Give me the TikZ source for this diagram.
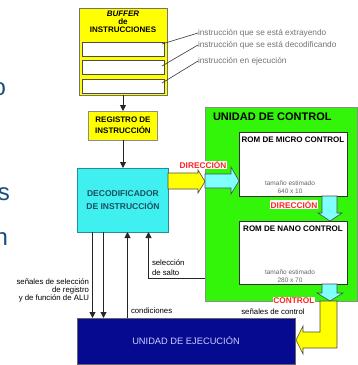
\documentclass[tikz,border=0pt]{standalone}
\usepackage{fontspec}
\setmainfont{Liberation Sans}
\usetikzlibrary{arrows.meta,positioning,calc}
\definecolor{bufyellow}{RGB}{255,255,0}
\definecolor{deccyan}{RGB}{64,240,240}
\definecolor{decedge}{RGB}{40,140,150}
\definecolor{dectext}{RGB}{25,80,95}
\definecolor{cugreen}{RGB}{51,245,10}
\definecolor{pathcyan}{RGB}{128,255,255}
\definecolor{execblue}{RGB}{5,10,145}
\definecolor{exectext}{RGB}{205,205,255}
\definecolor{tagred}{RGB}{255,35,35}
\definecolor{slideblue}{RGB}{25,75,125}

\begin{document}
\begin{tikzpicture}[x=1pt,y=-1pt,
    every node/.style={inner sep=0pt, outer sep=0pt},
    bufbox/.style={rectangle, draw=black!55, line width=1pt, fill=bufyellow, minimum width=88pt, minimum height=87pt},
    slot/.style={rectangle, draw=black!70, line width=1pt, fill=white, minimum width=82pt, minimum height=14pt},
    regbox/.style={rectangle, draw=black!45, line width=0.8pt, fill=bufyellow, minimum width=69pt, minimum height=29pt, align=center, font=\bfseries\fontsize{8}{11}\selectfont},
    decbox/.style={rectangle, draw=decedge, line width=1pt, fill=deccyan, minimum width=91pt, minimum height=64pt, align=center, text=dectext, font=\bfseries\fontsize{8.5}{13}\selectfont},
    cubox/.style={rectangle, draw=black!45, line width=0.5pt, fill=cugreen, minimum width=152pt, minimum height=194pt},
    rombox/.style={rectangle, draw=black!80, line width=0.8pt, fill=white, minimum width=108pt, minimum height=64pt},
    romtitle/.style={font=\bfseries\fontsize{8}{9}\selectfont},
    execbox/.style={rectangle, draw=black!60, line width=0.8pt, fill=execblue, minimum width=218pt, minimum height=46pt, text=exectext, font=\fontsize{9.3}{10}\selectfont},
    note/.style={text=black!55, font=\fontsize{8.3}{9}\selectfont},
    sigtext/.style={font=\fontsize{7.8}{7.6}\selectfont},
    sizetext/.style={text=black!60, align=center, font=\fontsize{6.5}{8}\selectfont},
    tagtext/.style={fill=white, text=tagred, inner sep=0.6pt, font=\bfseries\fontsize{8.3}{9}\selectfont},
    slidetext/.style={text=slideblue, font=\fontsize{24}{24}\selectfont},
    arrow/.style={-{Triangle[length=6pt,width=6pt]}, line width=1pt, black!85},
    leader/.style={line width=0.6pt, black!80},
    fatarrow/.style={draw=black!70, line width=0.6pt, line join=miter}
]
\clip (0,0) rectangle (358,365);

% bits of the slide text on the left
\node[slidetext, anchor=base east] (frag1) at (6,95) {o};
\node[slidetext, anchor=base east] (frag2) at (10,200) {s};
\node[slidetext, anchor=base east] (frag3) at (8,245) {n};

% Buffer de instrucciones
\node[bufbox] (buffer) at (123,51.5) {};
\node[font=\bfseries\fontsize{8}{8}\selectfont, align=center] (buftitle) at (123,22) {\textit{BUFFER}\\de\\INSTRUCCIONES};
\node[slot] (slotA) at (123,49) {};
\node[slot] (slotB) at (123,67.5) {};
\node[slot] (slotC) at (123,86) {};

\node[note, anchor=west] (noteA) at (198,33) {instrucción que se está extrayendo};
\node[note, anchor=west] (noteB) at (198,45) {instrucción que se está decodificando};
\node[note, anchor=west] (noteC) at (198,61) {instrucción en ejecución};
\draw[leader] ([shift={(-2,-5)}]slotA.east) -- (noteA.west);
\draw[leader] ([shift={(-2,-1.5)}]slotB.east) -- (noteB.west);
\draw[leader] ([shift={(-2,-3)}]slotC.east) -- (noteC.west);

% Registro y decodificador
\node[regbox, below=16pt of buffer] (registro) {REGISTRO DE\\INSTRUCCIÓN};
\node[decbox, below=28pt of registro] (dec) {DECODIFICADOR\\DE INSTRUCCIÓN};
\draw[arrow] (buffer) -- (registro);
\draw[arrow] (registro) -- (dec);

% Unidad de control
\node[cubox] (cu) at (281,204) {};
\node[anchor=west, font=\bfseries\fontsize{11}{12}\selectfont] (cutitle) at (213,117) {UNIDAD DE CONTROL};
\node[rombox] (rommicro) at (293,164) {};
\node[rombox, below=25pt of rommicro, minimum height=63pt] (romnano) {};
\node[romtitle] (microtitle) at ($(rommicro.north)+(0,8)$) {ROM DE MICRO CONTROL};
\node[romtitle] (nanotitle) at ($(romnano.north)+(0,8)$) {ROM DE NANO CONTROL};
\node[sizetext] (microsize) at ($(rommicro.south)+(-3,-9)$) {tamaño estimado\\640 x 10};
\node[sizetext] (nanosize) at ($(romnano.south)+(-3,-8)$) {tamaño estimado\\280 x 70};

% Unidad de ejecucion
\node[execbox] (exec) at (186,341) {UNIDAD DE EJECUCIÓN};

% wide paths: direccion into the micro ROM
\filldraw[fatarrow, fill=bufyellow] (168,173) -- (198,173) -- (198,170) -- (205,181.5) -- (198,193) -- (198,189) -- (168,189) -- cycle;
\filldraw[fatarrow, fill=pathcyan] (205,174) -- (231,174) -- (231,167) -- (239,181) -- (231,194) -- (231,188) -- (205,188) -- cycle;
% micro ROM to nano ROM
\filldraw[fatarrow, fill=pathcyan] (322,196) -- (322,213) -- (318,213) -- (330,221) -- (342,213) -- (337,213) -- (337,196) -- cycle;
% control word out to the execution unit
\filldraw[fatarrow, fill=bufyellow] (320,301) -- (337,301) -- (337,348) -- (303,348) -- (303,354) -- (296,340) -- (303,326) -- (303,332) -- (320,332) -- cycle;
\filldraw[fatarrow, fill=pathcyan] (322,284) -- (322,293) -- (317,293) -- (330,301) -- (343,293) -- (337,293) -- (337,284) -- cycle;

\node[tagtext] (dirA) at (203,165) {DIRECCIÓN};
\node[tagtext] (dirB) at (294,204.5) {DIRECCIÓN};
\node[tagtext] (ctrl) at (294,300.5) {CONTROL};
\node[sigtext] (ctrlsig) at (273,312) {señales de control};

% signals between decoder and execution unit
\coordinate (selA) at ([xshift=15pt]dec.south west);
\coordinate (selB) at ([xshift=26pt]dec.south west);
\coordinate (cond) at ([xshift=50pt]dec.south west);
\coordinate (salto) at ([xshift=71pt]dec.south west);
\coordinate (saltoin) at (cu.west |- 0,278);
\draw[arrow] (selA) -- (selA |- exec.north);
\draw[arrow] (selB) -- (selB |- exec.north);
\draw[arrow] (cond |- exec.north) -- (cond);
\draw[arrow] (saltoin) -| (salto);

\node[sigtext, anchor=east, align=right] (selabel) at (89,290.5) {señales de selección\\de registro\\y de función de ALU};
\node[sigtext, anchor=west] (condlabel) at (131,311) {condiciones};
\node[sigtext, anchor=west, align=left, font=\fontsize{7.8}{10}\selectfont] (saltolabel) at (152,268) {selección\\de salto};
\end{tikzpicture}
\end{document}
